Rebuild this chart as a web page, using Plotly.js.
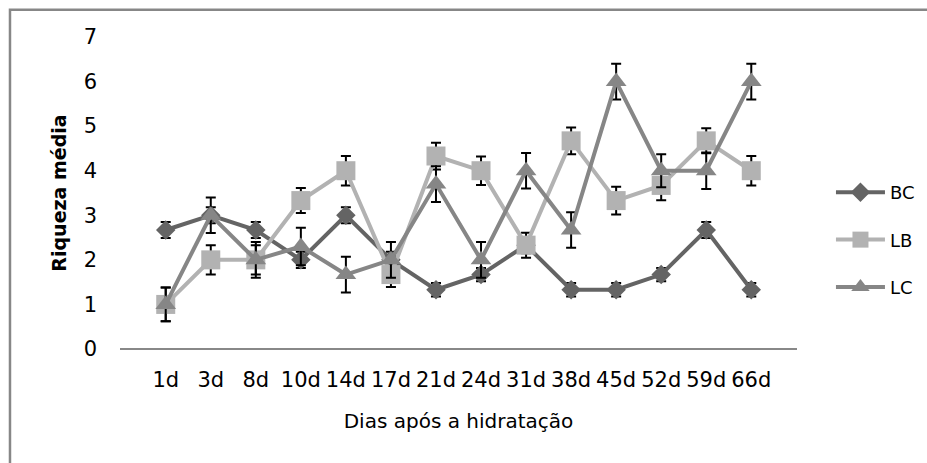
<!DOCTYPE html>
<html>
<head>
<meta charset="utf-8">
<script src="https://cdn.plot.ly/plotly-3.0.1.min.js"></script>
<style>html,body{margin:0;padding:0;background:#fff;}#chart{width:927px;height:463px;}</style>
</head>
<body>
<div id="chart"></div>
<script>
var categories = ["1d","3d","8d","10d","14d","17d","21d","24d","31d","38d","45d","52d","59d","66d"];
var bcValues = [2.67,3,2.67,2,3,2,1.33,1.67,2.33,1.33,1.33,1.67,2.67,1.33];
var lbValues = [1,2,2,3.33,4,1.67,4.33,4,2.33,4.67,3.33,3.67,4.67,4];
var lcValues = [1,3,2,2.3,1.67,2,3.7,2,4,2.67,6,4,4,6];
var bcErrors = [0.18,0.18,0.18,0.18,0.18,0.18,0.15,0.15,0.18,0.15,0.15,0.15,0.18,0.15];
var lbErrors = [0.38,0.33,0.33,0.28,0.33,0.28,0.3,0.32,0.28,0.3,0.31,0.33,0.28,0.33];
var lcErrors = [0.38,0.4,0.4,0.42,0.4,0.4,0.4,0.4,0.4,0.4,0.4,0.37,0.41,0.4];
var tickValues = [0,1,2,3,4,5,6,7];

var font = "DejaVu Sans";
function errSpec(arr){
  return {type:"data", array:arr, visible:true, color:"#000000", thickness:2, width:5};
}
var traces = [
  {x:categories, y:bcValues, name:"BC", type:"scatter", mode:"lines+markers", legendgroup:"a",
   line:{color:"#646464", width:4}, marker:{symbol:"diamond", size:15, color:"#646464"},
   error_y:errSpec(bcErrors)},
  {x:categories, y:lbValues, name:"LB", type:"scatter", mode:"lines+markers", legendgroup:"b",
   line:{color:"#b2b2b2", width:4}, marker:{symbol:"square", size:19, color:"#b2b2b2"},
   error_y:errSpec(lbErrors)},
  {x:categories, y:lcValues, name:"LC", type:"scatter", mode:"lines+markers", legendgroup:"c",
   line:{color:"#868686", width:4}, marker:{symbol:"triangle-up", size:18, color:"#868686"},
   error_y:errSpec(lcErrors)}
];
var layout = {
  width:927, height:463,
  margin:{l:120, r:130, t:37, b:114},
  paper_bgcolor:"#ffffff", plot_bgcolor:"#ffffff",
  font:{family:font, size:18, color:"#000000"},
  showlegend:true,
  legend:{xref:"container", yref:"container", x:0.8964, y:0.4816, xanchor:"left", yanchor:"middle",
          traceorder:"grouped", tracegroupgap:21,
          font:{family:font, size:18}, itemwidth:49, borderwidth:0, bgcolor:"rgba(0,0,0,0)"},
  xaxis:{type:"category", showgrid:false, zeroline:false, showline:false, ticks:"",
         tickfont:{family:font, size:21}, ticklabelstandoff:16,
         title:{text:"Dias após a hidratação", font:{family:font, size:20}, standoff:22}},
  yaxis:{range:[0,7], tickvals:tickValues, showgrid:false, zeroline:true, zerolinecolor:"#888888", zerolinewidth:1.5,
         showline:false, ticks:"", tickfont:{family:font, size:21}, ticklabelstandoff:22,
         title:{text:"<b>Riqueza média</b>", font:{family:font, size:19}, standoff:11}},
  shapes:[{type:"rect", xref:"paper", yref:"paper", x0:-0.1625, x1:1.6, y0:-0.6, y1:1.087,
           line:{color:"#878787", width:2.5}, fillcolor:"rgba(0,0,0,0)", layer:"below"}]
};
Plotly.newPlot("chart", traces, layout, {displayModeBar:false, staticPlot:true});
</script>
</body>
</html>
